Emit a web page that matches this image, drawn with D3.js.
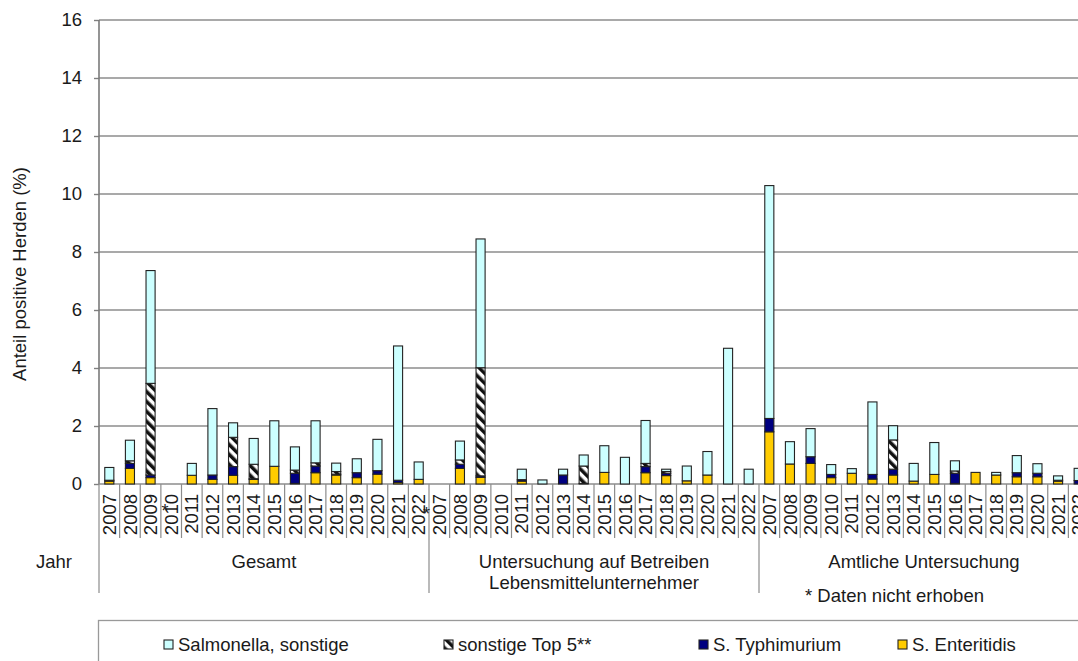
<!DOCTYPE html>
<html>
<head>
<meta charset="utf-8">
<script src="https://cdn.jsdelivr.net/npm/d3@7"></script>
<style>
  html, body { margin: 0; padding: 0; background: #fff; }
  svg { display: block; font-family: "Liberation Sans", Arial, sans-serif; }
  text { fill: #1a1a1a; }
</style>
</head>
<body>
<svg id="chart" width="1078" height="661"></svg>
<script>
// Categories: three survey groups, each with the years 2007–2022
const years = ["2007","2008","2009","2010","2011","2012","2013","2014","2015","2016","2017","2018","2019","2020","2021","2022"];
const groups = ["Gesamt", "Untersuchung auf Betreiben\nLebensmittelunternehmer", "Amtliche Untersuchung"];

// Share of positive flocks (%) per serovar; null = data not collected
const enteritidisGesamt  = [0.10, 0.54, 0.22, null, 0.30, 0.16, 0.30, 0.16, 0.61, 0.02, 0.39, 0.31, 0.22, 0.34, 0.05, 0.16];
const typhimuriumGesamt  = [0.03, 0.17, 0.09, null, 0.00, 0.15, 0.30, 0.02, 0.00, 0.35, 0.23, 0.03, 0.17, 0.12, 0.08, 0.00];
const top5Gesamt         = [0.00, 0.09, 3.16, null, 0.00, 0.00, 1.01, 0.50, 0.00, 0.11, 0.11, 0.09, 0.00, 0.00, 0.00, 0.00];
const sonstigeGesamt     = [0.44, 0.71, 3.89, null, 0.41, 2.29, 0.50, 0.89, 1.57, 0.80, 1.45, 0.29, 0.48, 1.08, 4.63, 0.60];

const enteritidisLMU     = [null, 0.54, 0.23, 0.00, 0.10, 0.00, 0.00, 0.02, 0.40, 0.00, 0.39, 0.29, 0.11, 0.31, 0.00, 0.00];
const typhimuriumLMU     = [null, 0.14, 0.05, 0.00, 0.05, 0.00, 0.31, 0.00, 0.00, 0.00, 0.21, 0.08, 0.00, 0.00, 0.00, 0.00];
const top5LMU            = [null, 0.15, 3.73, 0.00, 0.00, 0.00, 0.00, 0.60, 0.00, 0.00, 0.11, 0.06, 0.00, 0.00, 0.00, 0.00];
const sonstigeLMU        = [null, 0.65, 4.44, 0.00, 0.36, 0.14, 0.20, 0.38, 0.92, 0.92, 1.48, 0.08, 0.51, 0.81, 4.68, 0.51];

const enteritidisAmtlich = [1.80, 0.69, 0.71, 0.22, 0.37, 0.17, 0.31, 0.10, 0.33, 0.02, 0.40, 0.31, 0.25, 0.25, 0.10, 0.00];
const typhimuriumAmtlich = [0.46, 0.00, 0.23, 0.11, 0.00, 0.16, 0.20, 0.00, 0.00, 0.35, 0.00, 0.00, 0.14, 0.12, 0.03, 0.12];
const top5Amtlich        = [0.00, 0.00, 0.00, 0.00, 0.00, 0.00, 1.01, 0.00, 0.00, 0.08, 0.00, 0.00, 0.00, 0.00, 0.00, 0.00];
const sonstigeAmtlich    = [8.03, 0.77, 0.97, 0.34, 0.16, 2.50, 0.49, 0.61, 1.10, 0.35, 0.00, 0.09, 0.59, 0.33, 0.15, 0.42];

const seriesNames = ["Salmonella, sonstige", "sonstige Top 5**", "S. Typhimurium", "S. Enteritidis"];
const yTicks = [0, 2, 4, 6, 8, 10, 12, 14, 16];
const notCollected = [[0, "2010"], [1, "2007"]];
const footnote = "* Daten nicht erhoben";
const axisTitle = "Anteil positive Herden (%)";
const rowTitle = "Jahr";

// ---- build rows ----
const perGroup = [
  [enteritidisGesamt, typhimuriumGesamt, top5Gesamt, sonstigeGesamt],
  [enteritidisLMU, typhimuriumLMU, top5LMU, sonstigeLMU],
  [enteritidisAmtlich, typhimuriumAmtlich, top5Amtlich, sonstigeAmtlich]
];
const keys = ["ent", "typ", "top5", "sonst"];
const rows = [];
perGroup.forEach((arrs, g) => {
  years.forEach((yr, i) => {
    const r = { id: g + "-" + yr, group: g, year: yr };
    keys.forEach((k, j) => r[k] = arrs[j][i] == null ? 0 : arrs[j][i]);
    rows.push(r);
  });
});

const svg = d3.select("#chart");
const plotLeft = 99, plotRight = 1089, plotTop = 20, plotBottom = 484;

const x = d3.scaleBand().domain(rows.map(d => d.id)).range([plotLeft, plotRight])
  .paddingInner(0.56).paddingOuter(0.28);
const step = x.step();
const y = d3.scaleLinear().domain([0, 16]).range([plotBottom, plotTop]);

// patterns
const defs = svg.append("defs");
const pat = defs.append("pattern").attr("id", "hatch")
  .attr("width", 7).attr("height", 7).attr("patternUnits", "userSpaceOnUse")
  .attr("patternTransform", "rotate(-45)");
pat.append("rect").attr("width", 7).attr("height", 7).attr("fill", "#fff");
pat.append("rect").attr("width", 3.5).attr("height", 7).attr("fill", "#111");

const fills = { ent: "#ffcc00", typ: "#000080", top5: "url(#hatch)", sonst: "#ccffff" };

// gridlines
svg.append("g").selectAll("line").data(yTicks.filter(t => t > 0)).join("line")
  .attr("x1", plotLeft).attr("x2", plotRight)
  .attr("y1", d => y(d)).attr("y2", d => y(d))
  .attr("stroke", "#8c8c8c").attr("stroke-width", 1.6);

// y axis
const yAxis = d3.axisLeft(y).tickValues(yTicks).tickSize(5).tickPadding(12);
const gy = svg.append("g").attr("transform", `translate(${plotLeft},0)`).call(yAxis);
gy.select(".domain").remove();
gy.selectAll(".tick line").attr("stroke", "#808080").attr("stroke-width", 1.4);
gy.selectAll(".tick text").attr("font-size", 18.5).attr("fill", "#1a1a1a")
  .attr("font-family", "Liberation Sans, Arial, sans-serif");

// category separators in the label band
const bounds = d3.range(rows.length + 1).map(i => plotLeft + i * step);
svg.append("g").selectAll("line").data(bounds).join("line")
  .attr("x1", d => d).attr("x2", d => d)
  .attr("y1", plotBottom).attr("y2", (d, i) => i % years.length === 0 ? 593 : 538)
  .attr("stroke", "#8c8c8c").attr("stroke-width", 1.2);

// y axis line and baseline
svg.append("line").attr("x1", plotLeft).attr("x2", plotLeft).attr("y1", plotTop).attr("y2", plotBottom)
  .attr("stroke", "#7a7a7a").attr("stroke-width", 1.6);
svg.append("line").attr("x1", plotLeft).attr("x2", plotRight).attr("y1", plotBottom).attr("y2", plotBottom)
  .attr("stroke", "#8c8c8c").attr("stroke-width", 1.4);

// stacked bars
const stack = d3.stack().keys(keys)(rows);
svg.append("g").selectAll("g").data(stack).join("g")
  .attr("fill", d => fills[d.key])
  .selectAll("rect").data(d => d.filter(s => s[1] - s[0] > 0)).join("rect")
  .attr("x", d => x(d.data.id))
  .attr("width", x.bandwidth())
  .attr("y", d => y(d[1]))
  .attr("height", d => y(d[0]) - y(d[1]))
  .attr("stroke", "#222").attr("stroke-width", 1.1);

// year labels
svg.append("g").selectAll("text").data(rows).join("text")
  .attr("transform", d => `translate(${x(d.id) + x.bandwidth() / 2},${494}) rotate(-90)`)
  .attr("text-anchor", "end").attr("dy", "0.36em")
  .attr("font-size", 18.5)
  .text(d => d.year);

// markers for years without data
const markerShift = [-0.3, -0.62];
svg.append("g").selectAll("text").data(notCollected).join("text")
  .attr("x", (d, i) => x(d[0] + "-" + d[1]) + x.bandwidth() / 2 + markerShift[i] * step)
  .attr("y", (d, i) => 517 + i * 3)
  .attr("text-anchor", "middle").attr("font-size", 18).text("*");

// group labels
groups.forEach((g, gi) => {
  const cx = plotLeft + (gi + 0.5) * years.length * step;
  const lines = g.split("\n");
  const t = svg.append("text").attr("x", cx).attr("y", 568)
    .attr("text-anchor", "middle").attr("font-size", 18.5);
  lines.forEach((ln, li) => t.append("tspan").attr("x", cx).attr("dy", li ? 21 : 0).text(ln));
});

svg.append("text").attr("x", 36).attr("y", 568).attr("font-size", 18.5).text(rowTitle);
svg.append("text").attr("x", 805).attr("y", 602).attr("font-size", 18.5).text(footnote);

// y axis title
svg.append("text").attr("transform", "translate(26,274) rotate(-90)")
  .attr("text-anchor", "middle").attr("font-size", 18.5).text(axisTitle);

// legend
svg.append("rect").attr("x", 98.5).attr("y", 620.5).attr("width", 1100).attr("height", 80)
  .attr("fill", "none").attr("stroke", "#999").attr("stroke-width", 1.3);
const legendFill = [fills.sonst, fills.top5, fills.typ, fills.ent];
const legendX = [164, 444, 699, 898];
const lg = svg.append("g").selectAll("g").data(seriesNames).join("g")
  .attr("transform", (d, i) => `translate(${legendX[i]},640)`);
lg.append("rect").attr("width", 9).attr("height", 9)
  .attr("fill", (d, i) => legendFill[i]).attr("stroke", "#222").attr("stroke-width", 1.1);
lg.append("text").attr("x", 14).attr("y", 4.5).attr("dy", "0.36em")
  .attr("font-size", 18.5).text(d => d);
</script>
</body>
</html>
